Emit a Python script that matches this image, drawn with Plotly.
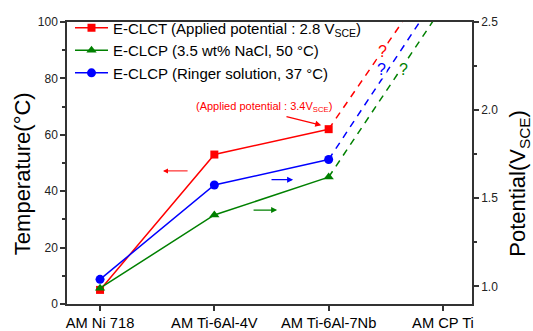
import plotly.graph_objects as go

categories = ["AM Ni 718", "AM Ti-6Al-4V", "AM Ti-6Al-7Nb", "AM CP Ti"]
x_pos = [0, 1, 2, 3]

# Temperature (left axis)
eclct_temp = [5, 53, 62]
# Potentials (right axis)
eclcp_nacl_pot = [0.99, 1.405, 1.62]
eclcp_ringer_pot = [1.04, 1.575, 1.72]

# Hypothetical extrapolation toward AM CP Ti (dashed)
eclct_ext = [62, 121]
nacl_ext = [1.62, 2.59]
ringer_ext = [1.72, 2.70]

RED = "#ff0000"
GREEN = "#008000"
BLUE = "#0000ff"
FONT = "Arial, Liberation Sans, sans-serif"
AX = "#333333"

fig = go.Figure()

fig.add_trace(go.Scatter(x=x_pos[:3], y=eclct_temp, mode="lines+markers",
                         name="E-CLCT (Applied potential : 2.8 V<sub>SCE</sub>)",
                         line=dict(color=RED, width=1.5),
                         marker=dict(symbol="square", size=8, color=RED)))
fig.add_trace(go.Scatter(x=x_pos[:3], y=eclcp_nacl_pot, mode="lines+markers", yaxis="y2",
                         name="E-CLCP (3.5 wt% NaCl, 50 \u00b0C)",
                         line=dict(color=GREEN, width=1.5),
                         marker=dict(symbol="triangle-up", size=9, color=GREEN)))
fig.add_trace(go.Scatter(x=x_pos[:3], y=eclcp_ringer_pot, mode="lines+markers", yaxis="y2",
                         name="E-CLCP (Ringer solution, 37 \u00b0C)",
                         line=dict(color=BLUE, width=1.5),
                         marker=dict(symbol="circle", size=9, color=BLUE)))

dash = "7px,6px"
fig.add_trace(go.Scatter(x=x_pos[2:], y=eclct_ext, mode="lines", showlegend=False,
                         line=dict(color=RED, width=1.5, dash=dash)))
fig.add_trace(go.Scatter(x=x_pos[2:], y=nacl_ext, mode="lines", yaxis="y2", showlegend=False,
                         line=dict(color=GREEN, width=1.5, dash=dash)))
fig.add_trace(go.Scatter(x=x_pos[2:], y=ringer_ext, mode="lines", yaxis="y2", showlegend=False,
                         line=dict(color=BLUE, width=1.5, dash=dash)))

annotations = []
# question marks
for (qx, qy, col) in [(2.47, 89.7, RED), (2.46, 83.3, BLUE), (2.655, 83.3, GREEN)]:
    annotations.append(dict(x=qx, y=qy, xref="x", yref="y", text="?", showarrow=False,
                            bgcolor="white", borderpad=0,
                            font=dict(family=FONT, size=16, color=col)))
# red note
annotations.append(dict(x=1.43, y=69.9, xref="x", yref="y",
                        text="(Applied potential : 3.4V<sub>SCE</sub>)", showarrow=False,
                        font=dict(family=FONT, size=11, color=RED)))
annotations.append(dict(x=1.935, y=63.4, ax=1.618, ay=66.6, xref="x", yref="y",
                        axref="x", ayref="y", text="", showarrow=True,
                        arrowhead=2, arrowsize=1, arrowwidth=1.2, arrowcolor=RED))
# direction arrows
annotations.append(dict(x=0.551, y=47.2, ax=0.779, ay=47.2, xref="x", yref="y",
                        axref="x", ayref="y", text="", showarrow=True,
                        arrowhead=2, arrowsize=1, arrowwidth=1.0, arrowcolor=RED))
annotations.append(dict(x=1.689, y=44.1, ax=1.487, ay=44.1, xref="x", yref="y",
                        axref="x", ayref="y", text="", showarrow=True,
                        arrowhead=2, arrowsize=1, arrowwidth=1.2, arrowcolor=BLUE))
annotations.append(dict(x=1.549, y=33.3, ax=1.33, ay=33.3, xref="x", yref="y",
                        axref="x", ayref="y", text="", showarrow=True,
                        arrowhead=2, arrowsize=1, arrowwidth=1.2, arrowcolor=GREEN))
# axis titles
annotations.append(dict(x=-0.110, y=0.462, xref="paper", yref="paper",
                        xanchor="center", yanchor="middle",
                        text="Temperature(\u00b0C)", showarrow=False, textangle=-90,
                        font=dict(family=FONT, size=22, color="#000")))
annotations.append(dict(x=1.116, y=0.43, xref="paper", yref="paper",
                        xanchor="center", yanchor="middle",
                        text="Potential(V<sub>SCE</sub>)", showarrow=False, textangle=-90,
                        font=dict(family=FONT, size=22, color="#000")))

fig.update_layout(
    width=533, height=331,
    margin=dict(l=67, r=61, t=17, b=27),
    paper_bgcolor="white", plot_bgcolor="white",
    font=dict(family=FONT, color="#000"),
    showlegend=True,
    legend=dict(x=0.0074, y=1.037, xanchor="left", yanchor="top", bgcolor="rgba(0,0,0,0)",
                itemwidth=33,
                font=dict(family=FONT, size=15, color="#000"), tracegroupgap=0),
    xaxis=dict(range=[-0.289, 3.254], tickvals=x_pos, ticktext=categories,
               automargin=False,
               showline=True, linecolor=AX, linewidth=1.5, mirror=True,
               ticks="outside", ticklen=5, tickcolor=AX, tickwidth=1.5,
               showgrid=False, zeroline=False,
               tickfont=dict(family=FONT, size=14.7, color="#000")),
    yaxis=dict(range=[0, 100], tickvals=[0, 20, 40, 60, 80, 100],
               automargin=False,
               showline=True, linecolor=AX, linewidth=1.5,
               ticks="outside", ticklen=5, tickcolor=AX, tickwidth=1.5,
               minor=dict(ticks="outside", ticklen=3, dtick=10, tick0=0, tickcolor=AX, showgrid=False),
               showgrid=False, zeroline=False,
               tickfont=dict(family=FONT, size=12, color="#222")),
    yaxis2=dict(range=[0.9, 2.5], tickvals=[1.0, 1.5, 2.0, 2.5], tickformat=".1f",
                overlaying="y", side="right", automargin=False,
                showline=True, linecolor=AX, linewidth=1.5,
                ticks="outside", ticklen=5, tickcolor=AX, tickwidth=1.5,
                minor=dict(ticks="outside", ticklen=3, dtick=0.25, tick0=1.0, tickcolor=AX, showgrid=False),
                showgrid=False, zeroline=False,
                tickfont=dict(family=FONT, size=12, color="#222")),
    annotations=annotations,
)

fig.write_html("out.html")
